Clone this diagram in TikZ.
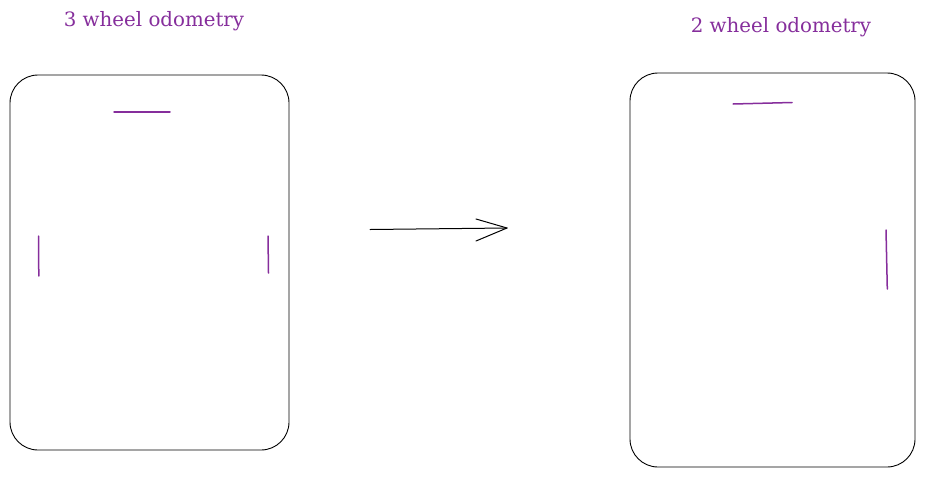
\documentclass[tikz,border=0pt]{standalone}
\usepackage{fontspec}
\setmainfont{DejaVu Serif}
\begin{document}
\begin{tikzpicture}[x=1pt,y=-1pt,
  robot/.style={draw=black,line width=0.9pt,rounded corners=28pt},
  wheel/.style={draw={rgb,255:red,134;green,46;blue,156},line width=1.5pt,line cap=round},
  label/.style={text={rgb,255:red,134;green,46;blue,156},font=\fontsize{19.8}{23}\selectfont,inner sep=0pt},
  arr/.style={draw=black,line width=1pt,line cap=round,line join=round}]
\useasboundingbox (0,0) rectangle (925,477);
\fill[white] (0,0) rectangle (925,477);
% left robot
\draw[robot] (10,75) rectangle (289,450);
\node[label] (t1) at (154,21) {3 wheel odometry};
\coordinate (l1a) at (114,112); \coordinate (l1b) at (170,112);
\draw[wheel] (l1a) -- (l1b);
\coordinate (l2a) at (38.5,236); \coordinate (l2b) at (38.8,276);
\draw[wheel] (l2a) -- (l2b);
\coordinate (l3a) at (268,236); \coordinate (l3b) at (268.5,273);
\draw[wheel] (l3a) -- (l3b);
% right robot
\draw[robot] (630,73) rectangle (915,467);
\node[label] (t2) at (781,27) {2 wheel odometry};
\coordinate (r1a) at (733,104); \coordinate (r1b) at (792,102.5);
\draw[wheel] (r1a) -- (r1b);
\coordinate (r2a) at (886,230); \coordinate (r2b) at (887.3,289);
\draw[wheel] (r2a) -- (r2b);
% arrow
\coordinate (as) at (370,229.5); \coordinate (ae) at (507,228);
\coordinate (h1) at (476,219); \coordinate (h2) at (476,241);
\draw[arr] (as) -- (ae);
\draw[arr] (h1) -- (ae) -- (h2);
\end{tikzpicture}
\end{document}
